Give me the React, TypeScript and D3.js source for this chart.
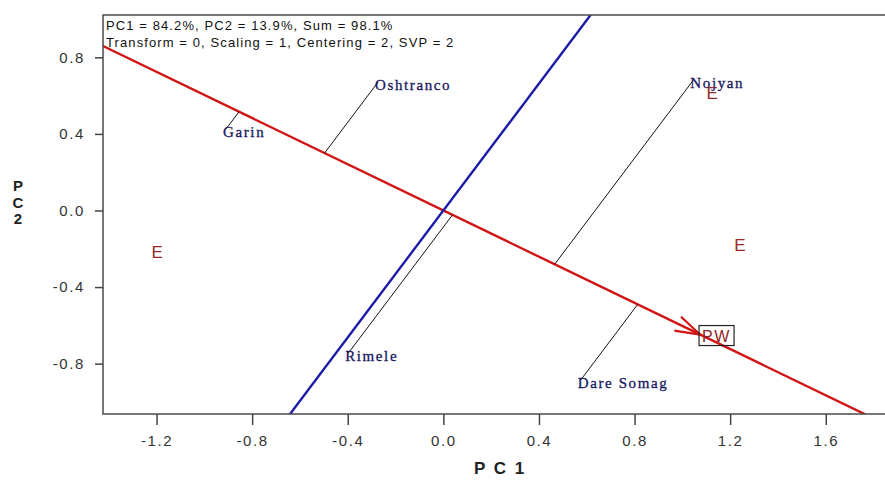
import React, { useRef, useEffect } from 'react';
import * as d3 from 'd3';

// genotype scores (PC1, PC2)
const genotypes = ['Garin', 'Oshtranco', 'Nojyan', 'Rimele', 'Dare Somag'];
const genoPC1 = [-0.909, -0.273, 1.046, -0.398, 0.575];
const genoPC2 = [0.426, 0.671, 0.681, -0.746, -0.885];

// environment scores
const envLabels = ['E', 'E', 'E'];
const envPC1 = [-1.197, 1.125, 1.241];
const envPC2 = [-0.215, 0.612, -0.18];

// target (average environment axis)
const targetLabel = 'PW';
const targetPC1 = 1.074;
const targetPC2 = -0.648;

const xTicks = [-1.2, -0.8, -0.4, 0.0, 0.4, 0.8, 1.2, 1.6];
const yTicks = [-0.8, -0.4, 0.0, 0.4, 0.8];
const xDomain = [-1.424, 1.852];
const yDomain = [-1.063, 1.021];

const infoLines = [
  'PC1 = 84.2%, PC2 = 13.9%, Sum = 98.1%',
  'Transform = 0, Scaling = 1, Centering = 2, SVP = 2',
];

const width = 885;
const height = 480;
const margin = { top: 15, right: -1, bottom: 66, left: 103 };

const App = () => {
  const svgRef = useRef(null);

  useEffect(() => {
    const svg = d3.select(svgRef.current);
    svg.selectAll('*').remove();

    const x = d3.scaleLinear().domain(xDomain).range([margin.left, width - margin.right]);
    const y = d3.scaleLinear().domain(yDomain).range([height - margin.bottom, margin.top]);
    const plotW = width - margin.right - margin.left;
    const plotH = height - margin.bottom - margin.top;

    svg.append('defs').append('clipPath').attr('id', 'plot-clip')
      .append('rect')
      .attr('x', margin.left).attr('y', margin.top)
      .attr('width', plotW).attr('height', plotH);

    const plot = svg.append('g').attr('clip-path', 'url(#plot-clip)');

    // red axis through origin and target, blue line perpendicular to it
    const slope = targetPC2 / targetPC1;
    const far = 10;
    plot.append('line')
      .attr('x1', x(-far)).attr('y1', y(-far * slope))
      .attr('x2', x(far)).attr('y2', y(far * slope))
      .attr('stroke', '#d11414').attr('stroke-width', 2.4);
    plot.append('line')
      .attr('x1', x(-far)).attr('y1', y(far / slope))
      .attr('x2', x(far)).attr('y2', y(-far / slope))
      .attr('stroke', '#1c1ca8').attr('stroke-width', 2.4);

    // projection of each genotype onto the red axis
    const len = Math.hypot(targetPC1, targetPC2);
    const ux = targetPC1 / len;
    const uy = targetPC2 / len;
    genotypes.forEach((g, i) => {
      const dot = genoPC1[i] * ux + genoPC2[i] * uy;
      plot.append('line')
        .attr('x1', x(genoPC1[i])).attr('y1', y(genoPC2[i]))
        .attr('x2', x(dot * ux)).attr('y2', y(dot * uy))
        .attr('stroke', '#111').attr('stroke-width', 1);
    });

    // arrow head at target
    const tx = x(targetPC1);
    const ty = y(targetPC2);
    const ang = Math.atan2(ty - y(0), tx - x(0)) + Math.PI;
    [-0.3, 0.3].forEach((d) => {
      plot.append('line')
        .attr('x1', tx).attr('y1', ty)
        .attr('x2', tx + 26 * Math.cos(ang + d)).attr('y2', ty + 26 * Math.sin(ang + d))
        .attr('stroke', '#d11414').attr('stroke-width', 2.2);
    });

    // target label with box
    plot.append('rect')
      .attr('x', tx - 1).attr('y', ty - 9)
      .attr('width', 35).attr('height', 20)
      .attr('fill', 'none').attr('stroke', '#222').attr('stroke-width', 1.2);
    plot.append('text')
      .attr('x', tx + 2).attr('y', ty + 7)
      .attr('fill', '#8f2424')
      .style('font-family', '"Liberation Sans", Arial, sans-serif')
      .style('font-size', '16px')
      .style('letter-spacing', '1.5px')
      .text(targetLabel);

    // genotype labels
    genotypes.forEach((g, i) => {
      plot.append('text')
        .attr('x', x(genoPC1[i]) - 3).attr('y', y(genoPC2[i]) + 8)
        .attr('fill', '#17175e')
        .attr('stroke', '#17175e')
        .attr('stroke-width', 0.3)
        .style('font-family', '"Liberation Serif", "Times New Roman", serif')
        .style('font-size', '15px')
        .style('letter-spacing', '1.6px')
        .text(g);
    });

    // environment labels
    envLabels.forEach((e, i) => {
      plot.append('text')
        .attr('x', x(envPC1[i])).attr('y', y(envPC2[i]))
        .attr('text-anchor', 'middle')
        .attr('dy', '0.36em')
        .attr('fill', '#962a2a')
        .style('font-family', '"Liberation Sans", Arial, sans-serif')
        .style('font-size', '17px')
        .text(e);
    });

    // frame
    svg.append('rect')
      .attr('x', margin.left).attr('y', margin.top)
      .attr('width', plotW).attr('height', plotH)
      .attr('fill', 'none').attr('stroke', '#4a4a4a').attr('stroke-width', 1.5);

    // info text
    infoLines.forEach((t, i) => {
      svg.append('text')
        .attr('x', margin.left + 3).attr('y', margin.top + 15 + i * 16.5)
        .attr('fill', '#111')
        .style('font-family', '"Liberation Sans", Arial, sans-serif')
        .style('font-size', '13px')
        .style('letter-spacing', '1.1px')
        .text(t);
    });

    // axes
    const fmt = (d) => d.toFixed(1);
    const gx = svg.append('g')
      .attr('transform', `translate(0,${height - margin.bottom})`)
      .call(d3.axisBottom(x).tickValues(xTicks).tickFormat(fmt).tickSize(11).tickPadding(10));
    const gy = svg.append('g')
      .attr('transform', `translate(${margin.left},0)`)
      .call(d3.axisLeft(y).tickValues(yTicks).tickFormat(fmt).tickSize(8).tickPadding(10));
    [gx, gy].forEach((g) => {
      g.select('.domain').remove();
      g.selectAll('line').attr('stroke', '#444').attr('stroke-width', 1.5);
      g.selectAll('text')
        .attr('fill', '#333')
        .style('font-family', '"Liberation Sans", Arial, sans-serif')
        .style('font-size', '15px')
        .style('letter-spacing', '1.6px');
    });

    // axis titles
    svg.append('text')
      .attr('x', 500).attr('y', 474)
      .attr('text-anchor', 'middle')
      .attr('fill', '#222')
      .style('font-family', '"Liberation Sans", Arial, sans-serif')
      .style('font-size', '17px')
      .style('font-weight', 'bold')
      .style('letter-spacing', '2px')
      .text('P C 1');
    ['P', 'C', '2'].forEach((c, i) => {
      svg.append('text')
        .attr('x', 18).attr('y', 191 + i * 16.5)
        .attr('text-anchor', 'middle')
        .attr('fill', '#222')
        .style('font-family', '"Liberation Sans", Arial, sans-serif')
        .style('font-size', '15px')
        .style('font-weight', 'bold')
        .text(c);
    });
  }, []);

  return (
    <>
      <style>{`body { margin: 0; background: #fff; }`}</style>
      <svg ref={svgRef} width={width} height={height} style={{ display: 'block' }}></svg>
    </>
  );
};

export default App;
